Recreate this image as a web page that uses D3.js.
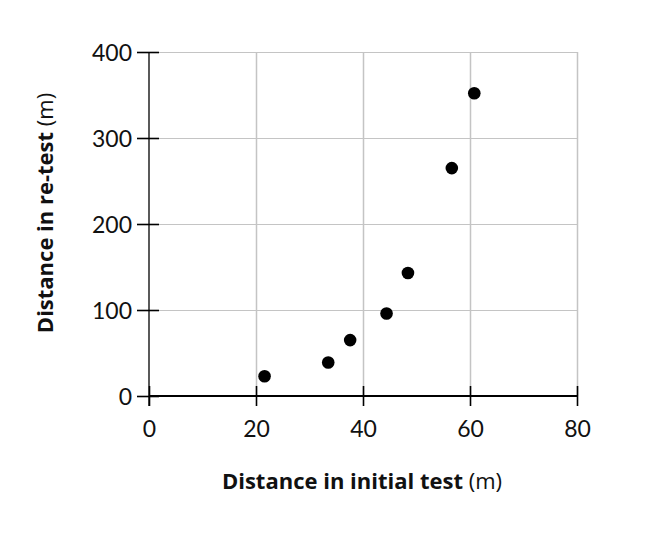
<!DOCTYPE html>
<html>
<head>
<meta charset="utf-8">
<script src="https://cdn.jsdelivr.net/npm/d3@7"></script>
<style>
	body { margin: 0; background: #fff; }
	svg { display: block; }
</style>
</head>
<body>
<svg id="chart"></svg>
<script>
(function() {

	// data
	var initialTest = [21.6, 33.5, 37.6, 44.4, 48.4, 56.6, 60.8];
	var reTest = [23, 39, 65, 96, 143, 265, 352];

	var xTicks = [0, 20, 40, 60, 80];
	var yTicks = [0, 100, 200, 300, 400];

	var xTitle = "Distance in initial test";
	var yTitle = "Distance in re-test";
	var unit = "(m)";

	var width = 662,
		height = 534;

	var font = "Lato, 'Open Sans', sans-serif";
	var titleFont = "'Open Sans', Lato, sans-serif";

	var svg = d3.select("#chart")
		.attr("width", width)
		.attr("height", height)
		.style("font-family", font)

	var x = d3.scaleLinear()
		.domain([0, 80])
		.range([149, 577]);

	var y = d3.scaleLinear()
		.domain([0, 400])
		.range([396, 52]);

	//gridlines
	svg.append("g")
		.attr("class", "grid")
		.selectAll("line.v")
		.data(xTicks.slice(1))
		.enter().append("line")
		.attr("x1", function(d) { return Math.round(x(d)) + 0.5; })
		.attr("x2", function(d) { return Math.round(x(d)) + 0.5; })
		.attr("y1", y(400))
		.attr("y2", y(0))
		.style("stroke", "#c4c4c4")
		.style("stroke-width", 1.5)

	svg.select("g.grid")
		.selectAll("line.h")
		.data(yTicks.slice(1))
		.enter().append("line")
		.attr("x1", x(0))
		.attr("x2", x(80))
		.attr("y1", function(d) { return Math.round(y(d)) + 0.5; })
		.attr("y2", function(d) { return Math.round(y(d)) + 0.5; })
		.style("stroke", "#c4c4c4")
		.style("stroke-width", 1.2)

	//axes, ticks cross the axis line
	var xAxis = d3.axisBottom(x)
		.tickValues(xTicks)
		.tickSize(0)
		.tickPadding(0);

	var yAxis = d3.axisLeft(y)
		.tickValues(yTicks)
		.tickSize(0)
		.tickPadding(0);

	var gx = svg.append("g")
		.attr("class", "x axis")
		.attr("transform", "translate(0," + y(0) + ")")
		.call(xAxis);

	var gy = svg.append("g")
		.attr("class", "y axis")
		.attr("transform", "translate(" + x(0) + ",0)")
		.call(yAxis);

	gx.select("path.domain").remove();
	gy.select("path.domain").remove();

	gx.selectAll(".tick line")
		.attr("y1", -10)
		.attr("y2", 10)

	gy.selectAll(".tick line")
		.attr("x1", -12)
		.attr("x2", 10)

	gx.append("line")
		.attr("x1", x(0))
		.attr("x2", x(80))
		.style("stroke-width", 2)

	gy.append("line")
		.attr("y1", y(400))
		.attr("y2", y(0) + 10)
		.style("stroke-width", 1.3)

	svg.selectAll(".axis line")
		.style("stroke", "#000")

	svg.selectAll(".axis .tick line")
		.style("stroke-width", 1.6)

	gx.selectAll(".tick text")
		.attr("y", 41)
		.attr("dy", 0)
		.style("font-size", "23px")
		.style("font-family", font)
		.style("fill", "#111")

	gy.selectAll(".tick text")
		.attr("x", -17)
		.attr("dy", 8)
		.style("font-size", "23px")
		.style("font-family", font)
		.style("fill", "#111")

	//points
	svg.append("g")
		.selectAll("circle")
		.data(initialTest)
		.enter().append("circle")
		.attr("cx", function(d) { return x(d); })
		.attr("cy", function(d, i) { return y(reTest[i]); })
		.attr("r", 6.3)
		.style("fill", "#000")

	//axis titles, bold name + plain unit
	var tx = svg.append("text")
		.attr("x", 362)
		.attr("y", 489)
		.attr("text-anchor", "middle")
		.style("font-family", titleFont)
		.style("font-size", "22px")
		.style("fill", "#111")

	tx.append("tspan").style("font-weight", "bold").text(xTitle + " ");
	tx.append("tspan").text(unit);

	var ty = svg.append("text")
		.attr("transform", "translate(53,213) rotate(-90)")
		.attr("text-anchor", "middle")
		.style("font-family", titleFont)
		.style("font-size", "22px")
		.style("fill", "#111")

	ty.append("tspan").style("font-weight", "bold").text(yTitle + " ");
	ty.append("tspan").text(unit);

})();
</script>
</body>
</html>
